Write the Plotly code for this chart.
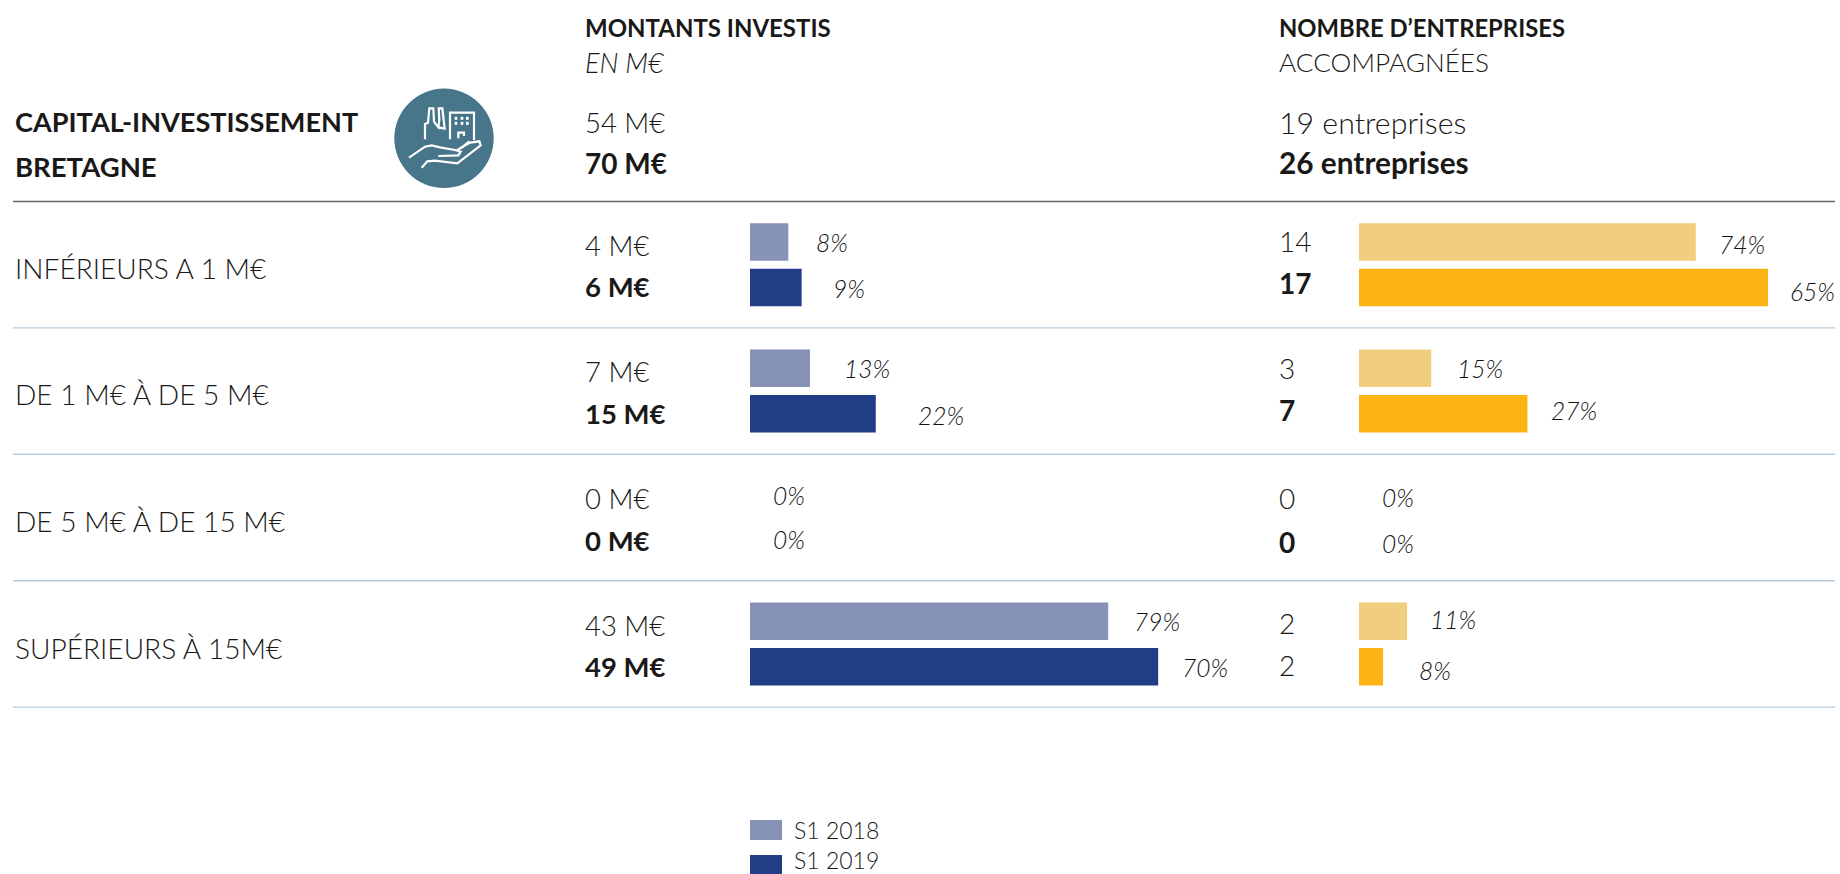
import plotly.graph_objects as go

W, H = 1840, 874
S = 1840 / 1568  # reading scale of the reference

# ---- data ----
CATEGORIES = ["INFÉRIEURS A 1 M€", "DE 1 M€ À DE 5 M€", "DE 5 M€ À DE 15 M€", "SUPÉRIEURS À 15M€"]
SERIES = ["S1 2018", "S1 2019"]

AMOUNT_2018 = [4.6, 7.2, 0, 43]
AMOUNT_2019 = [6.2, 15.1, 0, 49]
AMOUNT_LABEL_2018 = ["4 M€", "7 M€", "0 M€", "43 M€"]
AMOUNT_LABEL_2019 = ["6 M€", "15 M€", "0 M€", "49 M€"]
AMOUNT_PCT_2018 = ["8%", "13%", "0%", "79%"]
AMOUNT_PCT_2019 = ["9%", "22%", "0%", "70%"]

COUNT_2018 = [14, 3, 0, 2]
COUNT_2019 = [17, 7, 0, 1]
COUNT_LABEL_2018 = ["14", "3", "0", "2"]
COUNT_LABEL_2019 = ["17", "7", "0", "2"]
COUNT_PCT_2018 = ["74%", "15%", "0%", "11%"]
COUNT_PCT_2019 = ["65%", "27%", "0%", "8%"]

# ---- layout (reference pixels, in the 1568-wide reading) ----
VAL_Y_18 = [209, 317, 425, 533]
VAL_Y_19 = [244.5, 352.5, 460.5, 568]
CNT_Y_18 = [205.5, 313.5, 424, 530.5]
CNT_Y_19 = [241.5, 349.5, 461.5, 566.5]
ROW_LABEL_Y = [228, 336, 444, 552]
PCT_L_Y_18 = [207, 314, 422, 530]
PCT_L_Y_19 = [246, 354, 460, 569]
PCT_R_Y_18 = [208, 314, 424, 528]
PCT_R_Y_19 = [248, 350, 463, 571]
GAP_L_18 = [22, 27, 18, 20]
GAP_L_19 = [25, 34, 18, 19]
GAP_R_18 = [18, 20, 18, 18]
GAP_R_19 = [17, 18, 18, 29]

FONT = "Lato"
INK = "#1a1918"
C_18, C_19 = "#8793B6", "#213D85"
O_18, O_19 = "#F0CE7E", "#FBB414"
RULE = "#b7cbdc"
LEFT_X, VAL_X, CNT_X = 11.5, 496.5, 1088.5

X0_L, X0_R = 750.0, 1359.0
PX_L, PX_R = 8.33, 24.06
ROW0, PITCH = 264.7, 126.4


def px(x):
    return x / W


def py(y):
    return 1 - y / H


fig = go.Figure()
for name, vals, col in [(SERIES[0], AMOUNT_2018, C_18), (SERIES[1], AMOUNT_2019, C_19)]:
    fig.add_bar(y=CATEGORIES, x=vals, name=name, orientation="h", marker_color=col,
                marker_line_width=0, xaxis="x", yaxis="y", showlegend=False, hoverinfo="skip")
for name, vals, col in [(SERIES[0], COUNT_2018, O_18), (SERIES[1], COUNT_2019, O_19)]:
    fig.add_bar(y=CATEGORIES, x=vals, name=name, orientation="h", marker_color=col,
                marker_line_width=0, xaxis="x2", yaxis="y", showlegend=False, hoverinfo="skip")

ann = []


def text(t, xr, yr, size=25, weight=300, italic=False, color=INK):
    ann.append(dict(text=t, x=px(xr * S), y=py(yr * S), xref="paper", yref="paper",
                    xanchor="left", yanchor="middle", showarrow=False, align="left",
                    font=dict(family=FONT, size=size, color=color, weight=weight,
                              style="italic" if italic else "normal")))


def pct(t, xaxis, val, gap, yr):
    ann.append(dict(text=t, x=val, xref=xaxis, xshift=gap * S, y=py(yr * S), yref="paper",
                    xanchor="left", yanchor="middle", showarrow=False,
                    font=dict(family=FONT, size=24.5, color="#111111", weight=300, style="italic")))


# headers
text("MONTANTS INVESTIS", VAL_X, 23.5, 24, 700)
text("EN M€", VAL_X, 53.5, 27, 300, True)
text("54 M€", VAL_X, 104, 27.5, 300)
text("70 M€", VAL_X, 138.5, 28, 700)
text("NOMBRE D’ENTREPRISES", CNT_X, 23.5, 23.8, 700)
text("ACCOMPAGNÉES", CNT_X, 53, 26.2, 300)
text("19 entreprises", CNT_X, 104, 30.3, 300)
text("26 entreprises", CNT_X, 138.5, 29.8, 700)
text("CAPITAL-INVESTISSEMENT", LEFT_X, 103.5, 27.1, 700)
text("BRETAGNE", LEFT_X, 141.5, 27.5, 700)

for i, cat in enumerate(CATEGORIES):
    text(cat, LEFT_X, ROW_LABEL_Y[i], 28.1, 300)
    text(AMOUNT_LABEL_2018[i], VAL_X, VAL_Y_18[i], 27.5, 300)
    text(AMOUNT_LABEL_2019[i], VAL_X, VAL_Y_19[i], 27.5, 700)
    b = 300 if i == 3 else 700
    text(COUNT_LABEL_2018[i], CNT_X, CNT_Y_18[i], 28, 300)
    text(COUNT_LABEL_2019[i], CNT_X, CNT_Y_19[i], 28, b)
    pct(AMOUNT_PCT_2018[i], "x", AMOUNT_2018[i], GAP_L_18[i], PCT_L_Y_18[i])
    pct(AMOUNT_PCT_2019[i], "x", AMOUNT_2019[i], GAP_L_19[i], PCT_L_Y_19[i])
    pct(COUNT_PCT_2018[i], "x2", COUNT_2018[i], GAP_R_18[i], PCT_R_Y_18[i])
    pct(COUNT_PCT_2019[i], "x2", COUNT_2019[i], GAP_R_19[i], PCT_R_Y_19[i])

text(SERIES[0], 675, 707.5, 23, 300)
text(SERIES[1], 675, 733, 23, 300)

shapes = []


def rule(y, color, w):
    shapes.append(dict(type="line", xref="paper", yref="paper", x0=px(13), x1=px(1835),
                       y0=py(y), y1=py(y), line=dict(color=color, width=w), layer="below"))


rule(201.5, "#666666", 1.6)
for i in range(1, 5):
    rule(201.5 + PITCH * i, RULE, 1.4)

# legend swatches
for col, y0, y1 in [(C_18, 820, 840), (C_19, 855, 874)]:
    shapes.append(dict(type="rect", xref="paper", yref="paper", x0=px(750), x1=px(782),
                       y0=py(y0), y1=py(y1), fillcolor=col, line_width=0))

# icon
CX, CY, R = 444.0, 138.3, 49.7
shapes.append(dict(type="circle", xref="paper", yref="paper", x0=px(CX - R), x1=px(CX + R),
                   y0=py(CY - R), y1=py(CY + R), fillcolor="#47758A", line_width=0))


def glyph(points, width=2.2):
    d = "M" + "L".join(f"{px(370 + u / 3):.5f},{py(70 + v / 3):.5f}" for u, v in points)
    shapes.append(dict(type="path", path=d, xref="paper", yref="paper",
                       line=dict(color="white", width=width)))


glyph([(165, 208), (165, 162), (174, 158), (178, 115), (190, 115), (192, 155), (205, 172),
      (208, 150), (206, 115), (217, 115), (224, 176), (205, 172)])
glyph([(240, 208), (240, 128), (312, 128), (312, 210)])
glyph([(265, 205), (265, 188), (282, 188), (282, 198)])
for v in (145, 160):
    for u in (258, 276, 292):
        glyph([(u - 4, v), (u + 4, v)], 3)
glyph([(117, 263), (165, 230), (185, 226), (210, 232), (255, 240), (272, 245), (265, 256), (205, 258)])
glyph([(262, 240), (300, 218), (328, 214), (332, 226), (262, 280), (195, 272), (172, 274), (155, 293)])
glyph([(275, 233), (298, 214)])

fig.update_layout(
    width=W, height=H, margin=dict(l=0, r=0, t=0, b=0), autosize=False,
    plot_bgcolor="rgba(0,0,0,0)", paper_bgcolor="white", showlegend=False,
    barmode="group", bargap=0.28, bargroupgap=0.175,
    xaxis=dict(domain=[px(X0_L), 1], range=[0, (W - X0_L) / PX_L], visible=False, fixedrange=True),
    xaxis2=dict(domain=[px(X0_R), 1], range=[0, (W - X0_R) / PX_R], visible=False, fixedrange=True,
                anchor="y"),
    yaxis=dict(domain=[0, 1], type="category", categoryorder="array", categoryarray=CATEGORIES,
               range=[(H - ROW0) / PITCH, -ROW0 / PITCH], visible=False, fixedrange=True),
    annotations=ann, shapes=shapes,
)
fig.write_html("out.html", post_script="document.body.style.margin='0';",
               config={"displayModeBar": False})
